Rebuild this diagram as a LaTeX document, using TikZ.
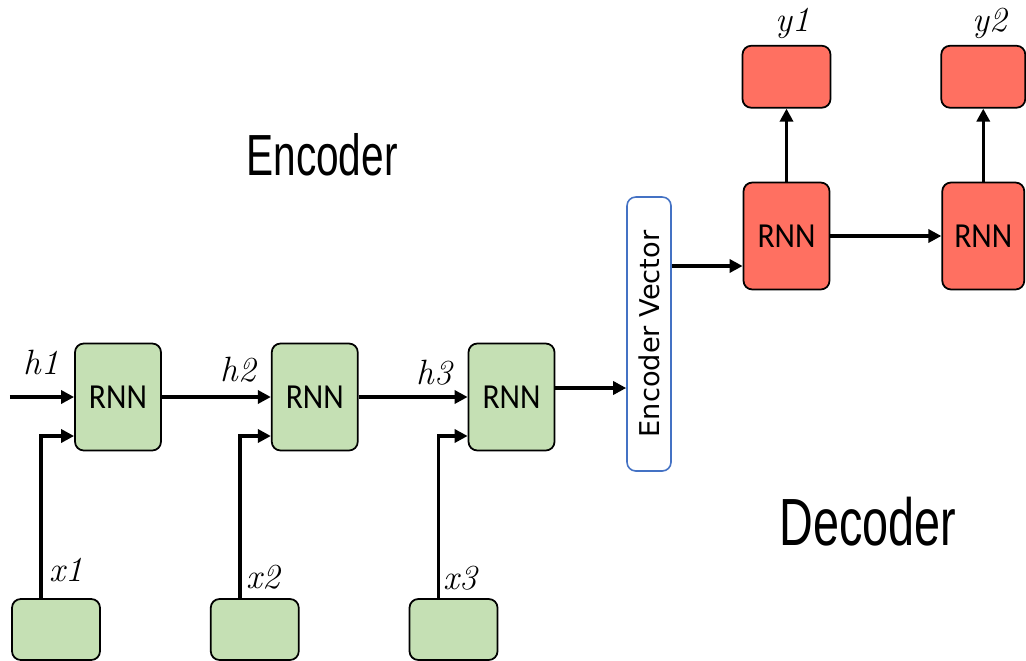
\documentclass[tikz,border=0pt]{standalone}
\usepackage{fontspec}
\newfontfamily\rnnfont[FakeStretch=0.9]{Carlito}
\newfontfamily\titlefont[FakeStretch=0.7]{Liberation Sans}
\newfontfamily\evfont{DejaVu Sans}
\usetikzlibrary{arrows.meta,positioning}

\definecolor{cellgreen}{RGB}{197,224,180}
\definecolor{cellred}{RGB}{255,112,97}
\definecolor{evblue}{RGB}{68,114,196}

\begin{document}
\begin{tikzpicture}[
    node distance=2.18cm,
    rnnbox/.style={
        rectangle, rounded corners=5pt, draw=black, line width=1pt,
        fill=cellgreen, minimum width=1.72cm, minimum height=2.14cm,
        font=\rnnfont\fontsize{20}{20}\selectfont
    },
    inbox/.style={
        rectangle, rounded corners=5pt, draw=black, line width=1pt,
        fill=cellgreen, minimum width=1.76cm, minimum height=1.22cm
    },
    decbox/.style={rnnbox, fill=cellred},
    outbox/.style={inbox, fill=cellred, minimum height=1.24cm},
    evbox/.style={
        rectangle, rounded corners=5pt, draw=evblue, line width=0.9pt,
        fill=white, minimum width=5.48cm, minimum height=0.88cm,
        rotate=90, font=\evfont\fontsize{15.5}{15.5}\selectfont
    },
    lbl/.style={font=\itshape\fontsize{20}{20}\selectfont},
    title/.style={font=\titlefont\fontsize{33}{33}\selectfont},
    arrow/.style={-{Triangle[length=2.6mm,width=2.6mm]}, line width=2pt}
]
\useasboundingbox (0,0) rectangle (20.52,-13.22);

% encoder
\node[rnnbox] (enc1) at (2.36,-7.94) {RNN};
\node[rnnbox, right=of enc1] (enc2) {RNN};
\node[rnnbox, right=of enc2] (enc3) {RNN};
\node[inbox] (in1) at (1.12,-12.59) {};
\node[inbox, right=of in1] (in2) {};
\node[inbox, right=of in2] (in3) {};
\coordinate (h0) at (0.2,-7.94);

\node[evbox] (ev) at (12.98,-6.68) {Encoder Vector};

% decoder
\node[decbox] (dec1) at (15.73,-4.72) {RNN};
\node[decbox, minimum width=1.64cm, right=2.22cm of dec1] (dec2) {RNN};
\node[outbox, above=1.46cm of dec1] (out1) {};
\node[outbox, minimum width=1.68cm, above=1.46cm of dec2] (out2) {};

% labels
\node[lbl] (lh1) at (0.82,-7.24) {h1};
\node[lbl] (lh2) at (4.76,-7.40) {h2};
\node[lbl] (lh3) at (8.68,-7.46) {h3};
\node[lbl] (lx1) at (1.32,-11.40) {x1};
\node[lbl] (lx2) at (5.26,-11.54) {x2};
\node[lbl] (lx3) at (9.20,-11.56) {x3};
\node[lbl] (ly1) at (15.86,-0.46) {y1};
\node[lbl] (ly2) at (19.80,-0.46) {y2};
\node[title] (enctitle) at (6.44,-3.10) {Encoder};
\node[title, font=\titlefont\fontsize{38}{38}\selectfont] (dectitle) at (17.36,-10.44) {Decoder};

\draw[arrow] (h0) -- (enc1);
\draw[arrow] (enc1) -- (enc2);
\draw[arrow] (enc2) -- (enc3);
\draw[arrow] ([xshift=-3mm]in1.north) |- ([yshift=-7.8mm]enc1.west);
\draw[arrow] ([xshift=-3mm]in2.north) |- ([yshift=-7.8mm]enc2.west);
\draw[arrow] ([xshift=-3mm]in3.north) |- ([yshift=-7.8mm]enc3.west);
\draw[arrow] ([yshift=1.8mm]enc3.east) -- ([yshift=1.8mm]enc3.east -| ev.north);
\draw[arrow] ([yshift=-6mm]dec1.west -| ev.south) -- ([yshift=-6mm]dec1.west);
\draw[arrow] (dec1) -- (dec2);
\draw[arrow] (dec1) -- (out1);
\draw[arrow] (dec2) -- (out2);
\end{tikzpicture}
\end{document}
